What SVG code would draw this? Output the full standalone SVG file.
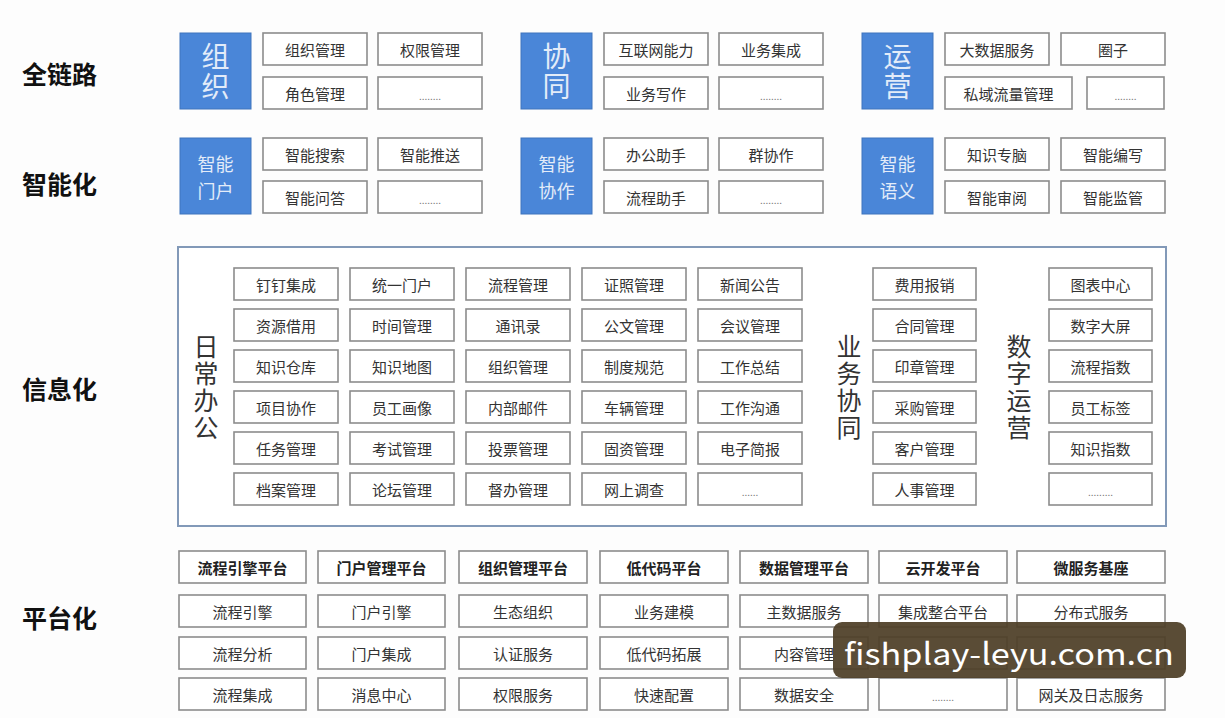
<svg xmlns="http://www.w3.org/2000/svg" width="1225" height="718" viewBox="0 0 1225 718">
<style>
text{font-family:"Noto Sans CJK SC","Noto Sans",sans-serif;}
.bx{fill:#fff;stroke:#8c8c8c;stroke-width:1.6;}
.bl{fill:#4a86d8;stroke:#3f74bd;stroke-width:1;}
.t{font-size:15px;fill:#333;text-anchor:middle;dominant-baseline:central;}
.th{font-size:15px;fill:#222;font-weight:bold;text-anchor:middle;dominant-baseline:central;}
.dots{font-size:10px;fill:#777;text-anchor:middle;dominant-baseline:central;}
.bt{font-size:28px;fill:#e3ecf9;text-anchor:middle;writing-mode:vertical-rl;letter-spacing:2px;}
.bs{font-size:18px;fill:#e3ecf9;text-anchor:middle;dominant-baseline:central;}
.lab{font-size:25px;font-weight:bold;fill:#111;dominant-baseline:central;}
.vt{font-size:25px;fill:#333;text-anchor:middle;writing-mode:vertical-rl;letter-spacing:2px;}
</style>
<rect x="0" y="0" width="1225" height="718" fill="#fdfdfd"/>

<g id="labels">
<text class="lab" x="22" y="73">全链路</text>
<text class="lab" x="22" y="183">智能化</text>
<text class="lab" x="22" y="388">信息化</text>
<text class="lab" x="22" y="617">平台化</text>
</g>

<!-- 全链路 -->
<g id="zuzhi">
<rect class="bl" x="180" y="33" width="71" height="76"/>
<text class="bt" x="215.5" y="72">组织</text>
<rect class="bx" x="263" y="33" width="104" height="32"/><text class="t" x="315" y="49">组织管理</text>
<rect class="bx" x="378" y="33" width="104" height="32"/><text class="t" x="430" y="49">权限管理</text>
<rect class="bx" x="263" y="77" width="104" height="32"/><text class="t" x="315" y="93">角色管理</text>
<rect class="bx" x="378" y="77" width="104" height="32"/><text class="dots" x="430" y="95">........</text>
</g>
<g id="xietong">
<rect class="bl" x="521" y="33" width="71" height="76"/>
<text class="bt" x="556.5" y="72">协同</text>
<rect class="bx" x="604" y="33" width="104" height="32"/><text class="t" x="656" y="49">互联网能力</text>
<rect class="bx" x="719" y="33" width="104" height="32"/><text class="t" x="771" y="49">业务集成</text>
<rect class="bx" x="604" y="77" width="104" height="32"/><text class="t" x="656" y="93">业务写作</text>
<rect class="bx" x="719" y="77" width="104" height="32"/><text class="dots" x="771" y="95">........</text>
</g>
<g id="yunying">
<rect class="bl" x="862" y="33" width="71" height="76"/>
<text class="bt" x="897.5" y="72">运营</text>
<rect class="bx" x="945" y="33" width="104" height="32"/><text class="t" x="997" y="49">大数据服务</text>
<rect class="bx" x="1061" y="33" width="104" height="32"/><text class="t" x="1113" y="49">圈子</text>
<rect class="bx" x="945" y="77" width="127" height="32"/><text class="t" x="1008.5" y="93">私域流量管理</text>
<rect class="bx" x="1087" y="77" width="77" height="32"/><text class="dots" x="1125.5" y="95">........</text>
</g>

<!-- 智能化 -->
<g id="zhineng-menhu">
<rect class="bl" x="180" y="138" width="71" height="76"/>
<text class="bs" x="215.5" y="163">智能</text><text class="bs" x="215.5" y="189.5">门户</text>
<rect class="bx" x="263" y="138" width="104" height="32"/><text class="t" x="315" y="154">智能搜索</text>
<rect class="bx" x="378" y="138" width="104" height="32"/><text class="t" x="430" y="154">智能推送</text>
<rect class="bx" x="263" y="181" width="104" height="32"/><text class="t" x="315" y="197">智能问答</text>
<rect class="bx" x="378" y="181" width="104" height="32"/><text class="dots" x="430" y="199">........</text>
</g>
<g id="zhineng-xiezuo">
<rect class="bl" x="521" y="138" width="71" height="76"/>
<text class="bs" x="556.5" y="163">智能</text><text class="bs" x="556.5" y="189.5">协作</text>
<rect class="bx" x="604" y="138" width="104" height="32"/><text class="t" x="656" y="154">办公助手</text>
<rect class="bx" x="719" y="138" width="104" height="32"/><text class="t" x="771" y="154">群协作</text>
<rect class="bx" x="604" y="181" width="104" height="32"/><text class="t" x="656" y="197">流程助手</text>
<rect class="bx" x="719" y="181" width="104" height="32"/><text class="dots" x="771" y="199">........</text>
</g>
<g id="zhineng-yuyi">
<rect class="bl" x="862" y="138" width="71" height="76"/>
<text class="bs" x="897.5" y="163">智能</text><text class="bs" x="897.5" y="189.5">语义</text>
<rect class="bx" x="945" y="138" width="104" height="32"/><text class="t" x="997" y="154">知识专脑</text>
<rect class="bx" x="1061" y="138" width="104" height="32"/><text class="t" x="1113" y="154">智能编写</text>
<rect class="bx" x="945" y="181" width="104" height="32"/><text class="t" x="997" y="197">智能审阅</text>
<rect class="bx" x="1061" y="181" width="104" height="32"/><text class="t" x="1113" y="197">智能监管</text>
</g>

<!-- 信息化 -->
<g id="info">
<rect x="178" y="247" width="988" height="279" fill="#fff" stroke="#8299b8" stroke-width="2"/>
<g id="richang-label"><text class="vt" x="206" y="388">日常办公</text></g>
<g id="yewu-label"><text class="vt" x="849" y="388">业务协同</text></g>
<g id="shuzi-label"><text class="vt" x="1019" y="388">数字运营</text></g>
<g id="info-col1">
<rect class="bx" x="234" y="268" width="104" height="32"/><text class="t" x="286" y="284">钉钉集成</text>
<rect class="bx" x="234" y="309" width="104" height="32"/><text class="t" x="286" y="325">资源借用</text>
<rect class="bx" x="234" y="350" width="104" height="32"/><text class="t" x="286" y="366">知识仓库</text>
<rect class="bx" x="234" y="391" width="104" height="32"/><text class="t" x="286" y="407">项目协作</text>
<rect class="bx" x="234" y="432" width="104" height="32"/><text class="t" x="286" y="448">任务管理</text>
<rect class="bx" x="234" y="473" width="104" height="32"/><text class="t" x="286" y="489">档案管理</text>
</g>
<g id="info-col2">
<rect class="bx" x="350" y="268" width="104" height="32"/><text class="t" x="402" y="284">统一门户</text>
<rect class="bx" x="350" y="309" width="104" height="32"/><text class="t" x="402" y="325">时间管理</text>
<rect class="bx" x="350" y="350" width="104" height="32"/><text class="t" x="402" y="366">知识地图</text>
<rect class="bx" x="350" y="391" width="104" height="32"/><text class="t" x="402" y="407">员工画像</text>
<rect class="bx" x="350" y="432" width="104" height="32"/><text class="t" x="402" y="448">考试管理</text>
<rect class="bx" x="350" y="473" width="104" height="32"/><text class="t" x="402" y="489">论坛管理</text>
</g>
<g id="info-col3">
<rect class="bx" x="466" y="268" width="104" height="32"/><text class="t" x="518" y="284">流程管理</text>
<rect class="bx" x="466" y="309" width="104" height="32"/><text class="t" x="518" y="325">通讯录</text>
<rect class="bx" x="466" y="350" width="104" height="32"/><text class="t" x="518" y="366">组织管理</text>
<rect class="bx" x="466" y="391" width="104" height="32"/><text class="t" x="518" y="407">内部邮件</text>
<rect class="bx" x="466" y="432" width="104" height="32"/><text class="t" x="518" y="448">投票管理</text>
<rect class="bx" x="466" y="473" width="104" height="32"/><text class="t" x="518" y="489">督办管理</text>
</g>
<g id="info-col4">
<rect class="bx" x="582" y="268" width="104" height="32"/><text class="t" x="634" y="284">证照管理</text>
<rect class="bx" x="582" y="309" width="104" height="32"/><text class="t" x="634" y="325">公文管理</text>
<rect class="bx" x="582" y="350" width="104" height="32"/><text class="t" x="634" y="366">制度规范</text>
<rect class="bx" x="582" y="391" width="104" height="32"/><text class="t" x="634" y="407">车辆管理</text>
<rect class="bx" x="582" y="432" width="104" height="32"/><text class="t" x="634" y="448">固资管理</text>
<rect class="bx" x="582" y="473" width="104" height="32"/><text class="t" x="634" y="489">网上调查</text>
</g>
<g id="info-col5">
<rect class="bx" x="698" y="268" width="104" height="32"/><text class="t" x="750" y="284">新闻公告</text>
<rect class="bx" x="698" y="309" width="104" height="32"/><text class="t" x="750" y="325">会议管理</text>
<rect class="bx" x="698" y="350" width="104" height="32"/><text class="t" x="750" y="366">工作总结</text>
<rect class="bx" x="698" y="391" width="104" height="32"/><text class="t" x="750" y="407">工作沟通</text>
<rect class="bx" x="698" y="432" width="104" height="32"/><text class="t" x="750" y="448">电子简报</text>
<rect class="bx" x="698" y="473" width="104" height="32"/><text class="dots" x="750" y="491">......</text>
</g>
<g id="info-yewu">
<rect class="bx" x="873" y="268" width="103" height="32"/><text class="t" x="924.5" y="284">费用报销</text>
<rect class="bx" x="873" y="309" width="103" height="32"/><text class="t" x="924.5" y="325">合同管理</text>
<rect class="bx" x="873" y="350" width="103" height="32"/><text class="t" x="924.5" y="366">印章管理</text>
<rect class="bx" x="873" y="391" width="103" height="32"/><text class="t" x="924.5" y="407">采购管理</text>
<rect class="bx" x="873" y="432" width="103" height="32"/><text class="t" x="924.5" y="448">客户管理</text>
<rect class="bx" x="873" y="473" width="103" height="32"/><text class="t" x="924.5" y="489">人事管理</text>
</g>
<g id="info-shuzi">
<rect class="bx" x="1049" y="268" width="103" height="32"/><text class="t" x="1100.5" y="284">图表中心</text>
<rect class="bx" x="1049" y="309" width="103" height="32"/><text class="t" x="1100.5" y="325">数字大屏</text>
<rect class="bx" x="1049" y="350" width="103" height="32"/><text class="t" x="1100.5" y="366">流程指数</text>
<rect class="bx" x="1049" y="391" width="103" height="32"/><text class="t" x="1100.5" y="407">员工标签</text>
<rect class="bx" x="1049" y="432" width="103" height="32"/><text class="t" x="1100.5" y="448">知识指数</text>
<rect class="bx" x="1049" y="473" width="103" height="32"/><text class="dots" x="1100.5" y="491">.........</text>
</g>
</g>

<!-- 平台化 -->
<g id="plat-liucheng">
<rect class="bx" x="179" y="551" width="127" height="32"/><text class="th" x="242.5" y="567">流程引擎平台</text>
<rect class="bx" x="179" y="595" width="127" height="32"/><text class="t" x="242.5" y="611">流程引擎</text>
<rect class="bx" x="179" y="637" width="127" height="32"/><text class="t" x="242.5" y="653">流程分析</text>
<rect class="bx" x="179" y="678" width="127" height="32"/><text class="t" x="242.5" y="694">流程集成</text>
</g>
<g id="plat-menhu">
<rect class="bx" x="318" y="551" width="127" height="32"/><text class="th" x="381.5" y="567">门户管理平台</text>
<rect class="bx" x="318" y="595" width="127" height="32"/><text class="t" x="381.5" y="611">门户引擎</text>
<rect class="bx" x="318" y="637" width="127" height="32"/><text class="t" x="381.5" y="653">门户集成</text>
<rect class="bx" x="318" y="678" width="127" height="32"/><text class="t" x="381.5" y="694">消息中心</text>
</g>
<g id="plat-zuzhi">
<rect class="bx" x="459" y="551" width="128" height="32"/><text class="th" x="523" y="567">组织管理平台</text>
<rect class="bx" x="459" y="595" width="128" height="32"/><text class="t" x="523" y="611">生态组织</text>
<rect class="bx" x="459" y="637" width="128" height="32"/><text class="t" x="523" y="653">认证服务</text>
<rect class="bx" x="459" y="678" width="128" height="32"/><text class="t" x="523" y="694">权限服务</text>
</g>
<g id="plat-didaima">
<rect class="bx" x="600" y="551" width="128" height="32"/><text class="th" x="664" y="567">低代码平台</text>
<rect class="bx" x="600" y="595" width="128" height="32"/><text class="t" x="664" y="611">业务建模</text>
<rect class="bx" x="600" y="637" width="128" height="32"/><text class="t" x="664" y="653">低代码拓展</text>
<rect class="bx" x="600" y="678" width="128" height="32"/><text class="t" x="664" y="694">快速配置</text>
</g>
<g id="plat-shuju">
<rect class="bx" x="740" y="551" width="128" height="32"/><text class="th" x="804" y="567">数据管理平台</text>
<rect class="bx" x="740" y="595" width="128" height="32"/><text class="t" x="804" y="611">主数据服务</text>
<rect class="bx" x="740" y="637" width="128" height="32"/><text class="t" x="804" y="653">内容管理</text>
<rect class="bx" x="740" y="678" width="128" height="32"/><text class="t" x="804" y="694">数据安全</text>
</g>
<g id="plat-yunkaifa">
<rect class="bx" x="879" y="551" width="128" height="32"/><text class="th" x="943" y="567">云开发平台</text>
<rect class="bx" x="879" y="595" width="128" height="32"/><text class="t" x="943" y="611">集成整合平台</text>
<rect class="bx" x="879" y="637" width="128" height="32"/>
<rect class="bx" x="879" y="678" width="128" height="32"/><text class="dots" x="943" y="696">........</text>
</g>
<g id="plat-weifuwu">
<rect class="bx" x="1017" y="551" width="148" height="32"/><text class="th" x="1091" y="567">微服务基座</text>
<rect class="bx" x="1017" y="595" width="148" height="32"/><text class="t" x="1091" y="611">分布式服务</text>
<rect class="bx" x="1017" y="637" width="148" height="32"/>
<rect class="bx" x="1017" y="678" width="148" height="32"/><text class="t" x="1091" y="694">网关及日志服务</text>
</g>

<g id="watermark">
<rect x="833" y="622" width="353" height="56" rx="9" fill="#4e3e27" fill-opacity="0.93"/>
<text x="1009" y="665" font-family="Noto Sans, sans-serif" font-size="30" fill="#fff" text-anchor="middle" textLength="330" lengthAdjust="spacingAndGlyphs">fishplay-leyu.com.cn</text>
</g>
</svg>
